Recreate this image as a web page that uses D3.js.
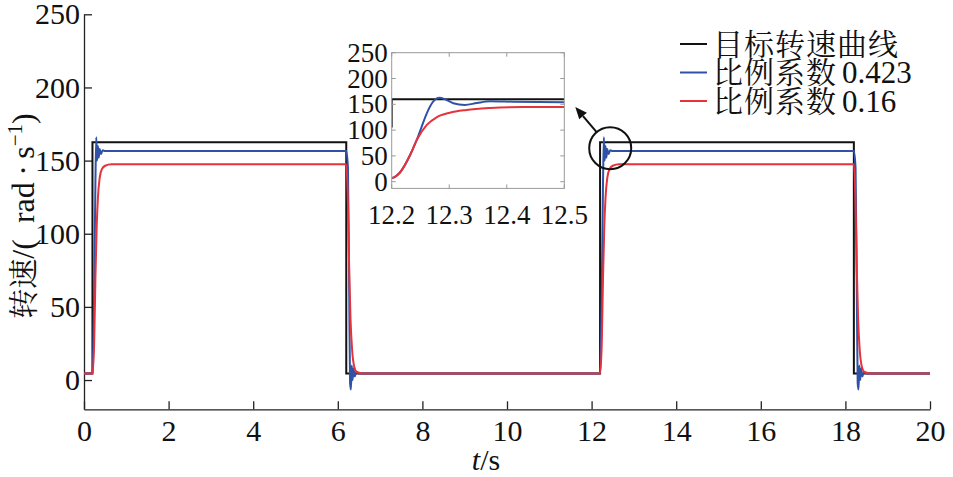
<!DOCTYPE html>
<html><head><meta charset="utf-8">
<script src="https://cdn.jsdelivr.net/npm/d3@7"></script>
<style>body{margin:0;background:#fff;}</style>
</head><body>
<script>
// ---------- data ----------
const xTicks = [0,2,4,6,8,10,12,14,16,18,20];
const yTicks = [0,50,100,150,200,250];
const insXTicks = [12.2,12.3,12.4,12.5];
const insYTicks = [0,50,100,150,200,250];
const legendCJK = ["目标转速曲线","比例系数","比例系数"];
const legendNum = ["","0.423","0.16"];
const seriesColors = ["#111111","#2f52a6","#e5323b"];

// target speed curve (main)
const tgtT = [0,0.2,0.2,6.2,6.2,12.2,12.2,18.2,18.2,20];
const tgtV = [4.5,4.5,162.5,162.5,4.5,4.5,162.5,162.5,4.5,4.5];

// Kp = 0.423 (main)
const blueT = [0,0.2,0.24,0.27,0.29,0.31,0.33,0.35,0.37,0.40,0.44,0.5,
  6.2,6.24,6.27,6.29,6.31,6.33,6.35,6.37,6.40,6.44,6.5,
  12.2,12.24,12.27,12.29,12.31,12.33,12.35,12.37,12.40,12.44,12.5,
  18.2,18.24,18.27,18.29,18.31,18.33,18.35,18.37,18.40,18.44,18.5,20];
const blueV = [4.5,4.5,60,135,166,150,160,152,158,154.5,157,156.5,
  156.5,145,60,-2,-6.5,10,0,8,2.5,5.5,4.5,
  4.5,60,135,166,150,160,152,158,154.5,157,156.5,
  156.5,145,60,-2,-6.5,10,0,8,2.5,5.5,4.5,4.5];

// Kp = 0.16 (main)
const redT = [0,0.2,0.24,0.27,0.3,0.33,0.37,0.42,0.5,0.65,
  6.2,6.24,6.27,6.3,6.34,6.39,6.45,6.6,
  12.2,12.24,12.27,12.3,12.33,12.37,12.42,12.5,12.65,
  18.2,18.24,18.27,18.3,18.34,18.39,18.45,18.6,20];
const redV = [4.5,4.5,25,70,105,125,138,144,146.5,147.5,
  147.5,120,75,42,20,9,5.5,4.5,
  4.5,25,70,105,125,138,144,146.5,147.5,
  147.5,120,75,42,20,9,5.5,4.5,4.5];

// inset (12.2 – 12.5 s)
const insTgtT = [12.2,12.2,12.5];
const insTgtV = [105,160,160];
const insBlueT = [12.2,12.205,12.214,12.232,12.2435,12.249,12.261,12.272,12.283,12.293,12.307,12.327,12.348,12.371,12.411,12.5];
const insBlueV = [7,9,17.4,51.7,80.8,97,132.5,155,162.8,159.6,152,148.6,152.5,155.8,155,153.9];
const insRedT = [12.2,12.205,12.214,12.232,12.2435,12.261,12.278,12.301,12.33,12.371,12.429,12.5];
const insRedV = [7,9,17.4,51.7,80.8,110,124.8,133.7,139,142.8,144.8,144.8];

// ---------- drawing ----------
const W = 953, H = 477;
const LAT = "Liberation Serif";
const CJK = "Noto Serif CJK SC";
const svg = d3.select("body").append("svg").attr("width",W).attr("height",H);

const x = d3.scaleLinear().domain([0,20]).range([84,930]);
const y = d3.scaleLinear().domain([-20,250]).range([409.3,14.3]);

// axes
const gy = svg.append("g").attr("transform",`translate(${x(0)},0)`)
  .call(d3.axisLeft(y).tickValues(yTicks).tickSizeInner(-8).tickSizeOuter(0).tickPadding(4));
const gx = svg.append("g").attr("transform",`translate(0,${y(-20)})`)
  .call(d3.axisBottom(x).tickValues(xTicks).tickSizeInner(-8).tickSizeOuter(0).tickPadding(10));
[gx,gy].forEach(g=>{
  g.attr("font-family",LAT).attr("font-size",30);
  g.selectAll("path,line").attr("stroke","#222").attr("stroke-width",1.3);
  g.selectAll("text").attr("fill","#111").attr("font-family",LAT);
});

function mk(T,V){return T.map((t,i)=>[t,V[i]]);}
const lineLin = d3.line().x(d=>x(d[0])).y(d=>y(d[1]));
const lineSm = d3.line().x(d=>x(d[0])).y(d=>y(d[1])).curve(d3.curveMonotoneX);

svg.append("path").attr("d",lineLin(mk(tgtT,tgtV))).attr("fill","none").attr("stroke",seriesColors[0]).attr("stroke-width",2);
svg.append("path").attr("d",lineSm(mk(blueT,blueV))).attr("fill","none").attr("stroke",seriesColors[1]).attr("stroke-width",2);
svg.append("path").attr("d",lineSm(mk(redT,redV))).attr("fill","none").attr("stroke",seriesColors[2]).attr("stroke-width",2);

// axis titles
const yl = svg.append("text").attr("transform","translate(34,216) rotate(-90)")
  .attr("text-anchor","middle").attr("font-family",LAT).attr("font-size",32).attr("fill","#111");
yl.append("tspan").attr("font-family",CJK).attr("font-size",30).text("转速");
yl.append("tspan").attr("font-family",LAT).text("/(\u2002rad\u2009·\u2009s");
yl.append("tspan").attr("dy",-12).attr("font-family",LAT).attr("font-size",21).text("−1");
yl.append("tspan").attr("dy",12).attr("font-family",LAT).text(")");

const xl = svg.append("text").attr("x",486).attr("y",470).attr("text-anchor","middle")
  .attr("font-family",LAT).attr("font-size",30).attr("fill","#111");
xl.append("tspan").attr("font-family",LAT).attr("font-style","italic").text("t");
xl.append("tspan").attr("font-family",LAT).text("/s");

// legend
const lg = svg.append("g");
legendCJK.forEach((lab,i)=>{
  const cy = 44 + i*28.5;
  lg.append("line").attr("x1",680).attr("x2",707).attr("y1",cy).attr("y2",cy)
    .attr("stroke",seriesColors[i]).attr("stroke-width",2);
  const t = lg.append("text").attr("x",713).attr("y",cy).attr("dy","0.36em")
    .attr("font-family",CJK).attr("font-size",30).attr("fill","#111");
  t.append("tspan").attr("font-family",CJK).attr("letter-spacing",1).text(lab);
  if (legendNum[i]) t.append("tspan").attr("font-family",LAT).attr("font-size",31).attr("dx",5).text(legendNum[i]);
});

// inset
const ix = d3.scaleLinear().domain([12.2,12.5]).range([391.7,564.3]);
const iy = d3.scaleLinear().domain([-13,250]).range([188.4,52.7]);
const ig = svg.append("g");
ig.append("rect").attr("x",ix(12.2)).attr("y",iy(250)).attr("width",ix(12.5)-ix(12.2))
  .attr("height",iy(-13)-iy(250)).attr("fill","#fff");
ig.append("clipPath").attr("id","ic").append("rect").attr("x",ix(12.2)).attr("y",iy(250))
  .attr("width",ix(12.5)-ix(12.2)).attr("height",iy(-13)-iy(250));
const il = d3.line().x(d=>ix(d[0])).y(d=>iy(d[1]));
const ils = d3.line().x(d=>ix(d[0])).y(d=>iy(d[1])).curve(d3.curveMonotoneX);
const lines = ig.append("g").attr("clip-path","url(#ic)");
lines.append("path").attr("d",il(mk(insTgtT,insTgtV))).attr("fill","none").attr("stroke",seriesColors[0]).attr("stroke-width",2);
lines.append("path").attr("d",ils(mk(insBlueT,insBlueV))).attr("fill","none").attr("stroke",seriesColors[1]).attr("stroke-width",2);
lines.append("path").attr("d",ils(mk(insRedT,insRedV))).attr("fill","none").attr("stroke",seriesColors[2]).attr("stroke-width",2);
ig.append("rect").attr("x",ix(12.2)).attr("y",iy(250)).attr("width",ix(12.5)-ix(12.2))
  .attr("height",iy(-13)-iy(250)).attr("fill","none").attr("stroke","#999").attr("stroke-width",1);
insYTicks.forEach(v=>{
  ig.append("line").attr("x1",ix(12.2)).attr("x2",ix(12.2)+4).attr("y1",iy(v)).attr("y2",iy(v)).attr("stroke","#999");
  ig.append("line").attr("x1",ix(12.5)).attr("x2",ix(12.5)-4).attr("y1",iy(v)).attr("y2",iy(v)).attr("stroke","#999");
  ig.append("text").attr("x",ix(12.2)-4).attr("y",iy(v)).attr("dy","0.34em").attr("text-anchor","end")
    .attr("font-family",LAT).attr("font-size",27).attr("fill","#111").text(v);
});
insXTicks.forEach(v=>{
  ig.append("line").attr("x1",ix(v)).attr("x2",ix(v)).attr("y1",iy(-13)).attr("y2",iy(-13)-4).attr("stroke","#999");
  ig.append("line").attr("x1",ix(v)).attr("x2",ix(v)).attr("y1",iy(250)).attr("y2",iy(250)+4).attr("stroke","#999");
  ig.append("text").attr("x",ix(v)).attr("y",224).attr("text-anchor","middle")
    .attr("font-family",LAT).attr("font-size",27).attr("fill","#111").text(v.toFixed(1));
});

// zoom circle + arrow
const cx = x(12.44), cy = y(158.5), r = 21;
svg.append("circle").attr("cx",cx).attr("cy",cy).attr("r",r).attr("fill","none").attr("stroke","#111").attr("stroke-width",2);
const tipX = ix(12.5)+11, tipY = iy(145);
const dx = tipX-cx, dy = tipY-cy, L = Math.hypot(dx,dy), ux = dx/L, uy = dy/L;
const tailX = cx + ux*r, tailY = cy + uy*r;
const headLen = 12, headW = 5;
const bx = tipX - ux*headLen, by = tipY - uy*headLen;
svg.append("line").attr("x1",tailX).attr("y1",tailY).attr("x2",bx).attr("y2",by).attr("stroke","#111").attr("stroke-width",2);
svg.append("path").attr("d",`M${tipX},${tipY}L${bx - uy*headW},${by + ux*headW}L${bx + uy*headW},${by - ux*headW}Z`).attr("fill","#111");

// enforce the chosen families (inline, important)
svg.selectAll("text, tspan").each(function(){
  const f = this.getAttribute("font-family");
  if (f) this.style.setProperty("font-family", `"${f}"`, "important");
});
</script>
</body></html>
